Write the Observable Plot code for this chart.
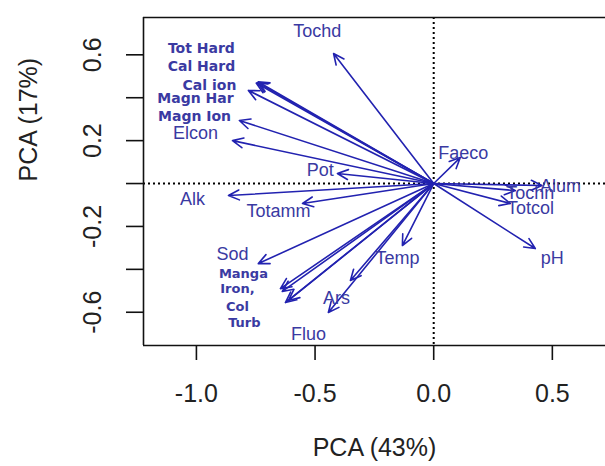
<!DOCTYPE html>
<html><head><meta charset="utf-8">
<script src="https://cdn.jsdelivr.net/npm/d3@7"></script>
<script src="https://cdn.jsdelivr.net/npm/@observablehq/plot@0.6"></script>
<style>html,body{margin:0;padding:0;background:#fff;}</style>
</head><body><div id="chart"></div>
<script>
// Arrow tips (loadings)
const varNames = ["Tochd","Tot Hard","Cal Hard","Cal ion","Magn Har","Magn Ion","Elcon","Pot","Alk","Totamm","Sod","Manga","Iron","Col","Turb","Ars","Fluo","Temp","Faeco","Alum","Tochn","Totcol","pH"];
const pc1 = [-0.422,-0.748,-0.739,-0.743,-0.781,-0.819,-0.848,-0.406,-0.865,-0.553,-0.739,-0.646,-0.638,-0.625,-0.612,-0.351,-0.444,-0.132,0.112,0.456,0.344,0.323,0.428];
const pc2 = [0.606,0.468,0.474,0.471,0.434,0.294,0.200,0.047,-0.056,-0.093,-0.373,-0.490,-0.503,-0.555,-0.545,-0.452,-0.601,-0.289,0.121,-0.009,-0.033,-0.093,-0.303];

// Regular labels
const regLabels = ["Tochd","Elcon","Pot","Alk","Totamm","Sod","Fluo","Ars","Temp","Faeco","Alum","Tochn","Totcol","pH"];
const regX = [-0.491,-1.004,-0.478,-1.017,-0.654,-0.848,-0.528,-0.410,-0.153,0.125,0.534,0.407,0.408,0.500];
const regY = [0.709,0.233,0.061,-0.075,-0.131,-0.331,-0.704,-0.536,-0.350,0.140,-0.012,-0.047,-0.117,-0.350];

// Bold labels (upper group)
const boldLabelsA = ["Tot Hard","Cal Hard","Cal ion","Magn Har","Magn Ion"];
const boldXA = [-0.979,-0.979,-0.945,-1.004,-1.008];
const boldYA = [0.629,0.545,0.457,0.396,0.312];
// Bold labels (lower group)
const boldLabelsB = ["Manga","Iron,","Col","Turb"];
const boldXB = [-0.802,-0.827,-0.827,-0.798];
const boldYB = [-0.420,-0.490,-0.573,-0.648];

const xTicks = [-1.0,-0.5,0.0,0.5];
const yTicks = [-0.6,-0.4,-0.2,0.0,0.2,0.4,0.6];
const yTickLabels = [-0.6,-0.2,0.2,0.6];
const xDomain = [-1.223, 0.724];
const yDomain = [-0.755, 0.774];
const xTitle = "PCA (43%)";
const yTitle = "PCA (17%)";

const arrows = varNames.map((n,i)=>({name:n, x:pc1[i], y:pc2[i]}));
const regs = regLabels.map((t,i)=>({t, x:regX[i], y:regY[i]}));
const boldA = boldLabelsA.map((t,i)=>({t, x:boldXA[i], y:boldYA[i]}));
const boldB = boldLabelsB.map((t,i)=>({t, x:boldXB[i], y:boldYB[i]}));

const arrowColor = "#2222b0";
const textColor = "#3a3aa2";
const sans = "'Liberation Sans', Arial, Helvetica, sans-serif";
const bold = "'DejaVu Sans', Verdana, sans-serif";

const chart = Plot.plot({
  width: 605, height: 466,
  marginLeft: 143, marginRight: 0, marginTop: 17, marginBottom: 121,
  style: {fontFamily: sans, background: "#fff", overflow: "visible"},
  x: {domain: xDomain, range: [143, 605]},
  y: {domain: yDomain},
  marks: [
    Plot.ruleY([0], {stroke: "#000", strokeWidth: 2, strokeDasharray: "2,3"}),
    Plot.ruleX([0], {stroke: "#000", strokeWidth: 2, strokeDasharray: "2,3"}),
    Plot.ruleY([yDomain[1], yDomain[0]], {stroke: "#111", strokeWidth: 1.6}),
    Plot.ruleX([xDomain[0]], {stroke: "#111", strokeWidth: 1.6}),
    Plot.axisX({ticks: xTicks, tickFormat: d => d.toFixed(1), tickSize: 15, tickPadding: 24, fontSize: 25, label: null, stroke: "#111", strokeWidth: 1.6, fill: "#222", style: {letterSpacing: "1px"}}),
    Plot.axisY({ticks: yTicks, tickFormat: () => "", tickSize: 17, label: null, stroke: "#111", strokeWidth: 1.6}),
    Plot.text(yTickLabels, {y: d => d, text: d => d.toFixed(1), frameAnchor: "left", dx: -51, rotate: -90, textAnchor: "middle", fontSize: 25, fill: "#222", style: {letterSpacing: "1px"}}),
    Plot.text([xTitle], {frameAnchor: "bottom", dy: 110, fontSize: 25, fill: "#222", style: {letterSpacing: "0.5px"}}),
    Plot.text([yTitle], {frameAnchor: "left", dx: -115, rotate: -90, fontSize: 25, fill: "#222", style: {letterSpacing: "0.5px"}}),
    Plot.arrow(arrows, {x1: 0, y1: 0, x2: "x", y2: "y", stroke: arrowColor, strokeWidth: 1.6, headLength: 11, headAngle: 50}),
    Plot.text(regs, {x: "x", y: "y", text: "t", fontSize: 18, fill: textColor, fontFamily: sans}),
    Plot.text(boldA, {x: "x", y: "y", text: "t", fontSize: 14, fontWeight: "bold", fill: textColor, fontFamily: bold, style: {letterSpacing: "1.4px"}}),
    Plot.text(boldB, {x: "x", y: "y", text: "t", fontSize: 13, fontWeight: "bold", fill: textColor, fontFamily: bold, style: {letterSpacing: "1.2px"}})
  ]
});
document.getElementById("chart").appendChild(chart);
</script></body></html>
